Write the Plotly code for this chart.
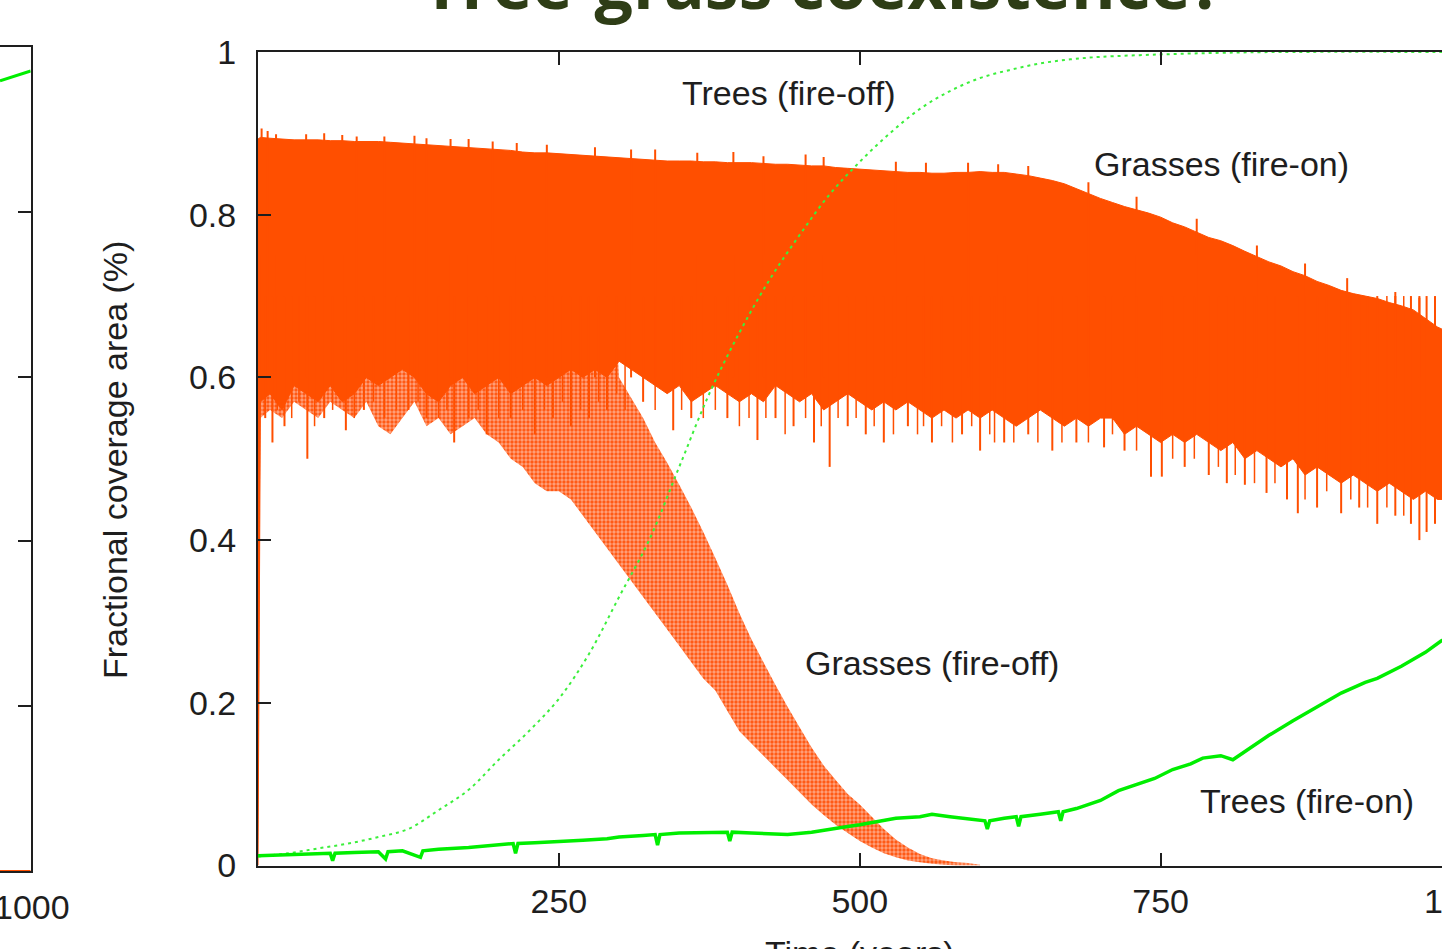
import plotly.graph_objects as go

# ---------------- data ----------------
band_years = [0, 2] + list(range(10, 1000, 10))

grass_on_upper = [0.893, 0.895, 0.894, 0.893, 0.892, 0.892, 0.892, 0.891, 0.891, 0.890,
                  0.890, 0.890, 0.889, 0.888, 0.887, 0.886, 0.885, 0.884, 0.883, 0.882,
                  0.881, 0.880, 0.879, 0.877, 0.876, 0.876, 0.875, 0.874, 0.873, 0.872,
                  0.871, 0.870, 0.869, 0.868, 0.867, 0.866, 0.866, 0.866, 0.865, 0.865,
                  0.864, 0.864, 0.864, 0.863, 0.862, 0.862, 0.861, 0.860, 0.860, 0.858,
                  0.857, 0.856, 0.855, 0.854, 0.853, 0.852, 0.852, 0.851, 0.851, 0.852,
                  0.852, 0.853, 0.852, 0.852, 0.850, 0.848, 0.845, 0.842, 0.838, 0.832,
                  0.826, 0.820, 0.815, 0.810, 0.806, 0.802, 0.797, 0.790, 0.785, 0.778,
                  0.772, 0.768, 0.762, 0.755, 0.748, 0.742, 0.737, 0.730, 0.725, 0.718,
                  0.713, 0.707, 0.703, 0.700, 0.697, 0.692, 0.688, 0.683, 0.672, 0.662,
                  0.655]

grass_on_lower = [0.00, 0.57, 0.58, 0.56, 0.59, 0.58, 0.57, 0.59, 0.57, 0.58,
                  0.60, 0.59, 0.60, 0.61, 0.60, 0.58, 0.57, 0.59, 0.60, 0.58,
                  0.59, 0.60, 0.58, 0.59, 0.60, 0.59, 0.60, 0.61, 0.60, 0.61,
                  0.60, 0.62, 0.61, 0.60, 0.59, 0.58, 0.59, 0.57, 0.58, 0.59,
                  0.58, 0.57, 0.58, 0.57, 0.59, 0.58, 0.57, 0.58, 0.56, 0.57,
                  0.58, 0.57, 0.56, 0.57, 0.56, 0.57, 0.56, 0.55, 0.56, 0.55,
                  0.56, 0.55, 0.56, 0.55, 0.54, 0.55, 0.56, 0.55, 0.54, 0.55,
                  0.54, 0.55, 0.55, 0.53, 0.54, 0.53, 0.52, 0.53, 0.52, 0.53,
                  0.52, 0.51, 0.52, 0.50, 0.51, 0.50, 0.49, 0.50, 0.48, 0.49,
                  0.48, 0.47, 0.48, 0.47, 0.46, 0.47, 0.46, 0.45, 0.46, 0.45,
                  0.45]

# short upward spikes on the top edge of the fire-on band
spike_years = [3, 8, 15, 40, 55, 70, 82, 105, 130, 140, 160, 175, 195, 215, 240, 280,
               310, 330, 365, 395, 420, 455, 470, 530, 555, 590, 615, 640, 690, 730,
               780, 830, 870, 905, 945, 965]
spike_tops = [0.906, 0.903, 0.899, 0.899, 0.900, 0.898, 0.896, 0.896, 0.897, 0.894,
              0.893, 0.893, 0.890, 0.888, 0.886, 0.883, 0.880, 0.880, 0.876, 0.877,
              0.872, 0.874, 0.871, 0.865, 0.864, 0.864, 0.862, 0.860, 0.840, 0.822,
              0.795, 0.762, 0.740, 0.722, 0.705, 0.698]

# deep downward dips below the fire-on band
dip_years = [6, 12, 22, 41, 55, 73, 88, 105, 125, 140, 163, 175, 190, 210, 230, 245,
             260, 275, 290, 320, 345, 360, 390, 415, 430, 445, 462, 475, 490, 505,
             520, 540, 560, 585, 600, 620, 640, 660, 680, 703, 720, 742, 751, 770,
             790, 805, 820, 838, 855, 864, 880, 900, 915, 930, 945, 958, 965, 971, 978]
dip_bottoms = [0.55, 0.52, 0.54, 0.50, 0.55, 0.535, 0.56, 0.55, 0.56, 0.55,
               0.52, 0.55, 0.53, 0.55, 0.53, 0.55, 0.54, 0.55, 0.56, 0.57,
               0.535, 0.55, 0.55, 0.523, 0.55, 0.54, 0.52, 0.49, 0.54, 0.53,
               0.52, 0.54, 0.52, 0.53, 0.51, 0.52, 0.53, 0.51, 0.52, 0.514,
               0.51, 0.478, 0.478, 0.49, 0.48, 0.47, 0.468, 0.458, 0.45, 0.433,
               0.44, 0.433, 0.44, 0.42, 0.43, 0.42, 0.40, 0.41, 0.42]

# shallower, thinner dips along the ragged lower edge
minor_dip_years = [16, 28, 34, 47, 62, 80, 96, 115, 133, 150, 157, 183, 200, 220, 238,
                   253, 268, 283, 298, 305, 330, 352, 370, 380, 400, 408, 422, 438, 455,
                   468, 482, 497, 512, 528, 548, 553, 568, 577, 593, 608, 612, 628, 648,
                   668, 690, 710, 730, 760, 778, 798, 812, 828, 845, 870, 888, 908, 922,
                   938, 952, 985]
minor_dip_bottoms = [0.56, 0.55, 0.57, 0.54, 0.56, 0.55, 0.57, 0.56, 0.57, 0.55,
                     0.56, 0.56, 0.55, 0.56, 0.56, 0.57, 0.56, 0.57, 0.58, 0.56,
                     0.56, 0.56, 0.55, 0.56, 0.54, 0.55, 0.55, 0.53, 0.55, 0.54,
                     0.55, 0.55, 0.54, 0.53, 0.53, 0.54, 0.54, 0.52, 0.54, 0.53,
                     0.52, 0.52, 0.52, 0.52, 0.52, 0.53, 0.51, 0.50, 0.50, 0.49,
                     0.48, 0.47, 0.47, 0.45, 0.46, 0.45, 0.44, 0.44, 0.43, 0.43]

off_years = [0, 2] + list(range(10, 610, 10))
grass_off_upper = [0.88, 0.88, 0.88, 0.88, 0.88, 0.88, 0.88, 0.88, 0.88, 0.88,
                   0.88, 0.88, 0.88, 0.88, 0.88, 0.88, 0.88, 0.88, 0.87, 0.87,
                   0.87, 0.87, 0.87, 0.87, 0.87, 0.87, 0.87, 0.87, 0.87, 0.87,
                   0.87, 0.600, 0.575, 0.550, 0.520, 0.495, 0.468, 0.440, 0.410, 0.378,
                   0.345, 0.310, 0.278, 0.250, 0.222, 0.195, 0.170, 0.145, 0.123, 0.105,
                   0.088, 0.075, 0.060, 0.045, 0.032, 0.022, 0.014, 0.009, 0.006, 0.004,
                   0.003, 0.001]
grass_off_lower = [0.00, 0.55, 0.56, 0.55, 0.57, 0.56, 0.55, 0.57, 0.56, 0.55,
                   0.57, 0.54, 0.53, 0.55, 0.57, 0.54, 0.55, 0.53, 0.54, 0.55,
                   0.53, 0.52, 0.50, 0.49, 0.47, 0.46, 0.46, 0.45, 0.43, 0.41,
                   0.39, 0.37, 0.35, 0.33, 0.31, 0.29, 0.27, 0.25, 0.23, 0.215,
                   0.19, 0.165, 0.15, 0.135, 0.12, 0.105, 0.09, 0.075, 0.062, 0.05,
                   0.04, 0.03, 0.022, 0.015, 0.010, 0.006, 0.004, 0.002, 0.001, 0.0,
                   0.0, 0.0]

trees_off_years = [0, 25, 50, 75, 100, 125, 150, 175, 200, 225, 250, 275, 300, 325,
                   350, 375, 400, 425, 450, 475, 500, 525, 550, 575, 600, 625, 650,
                   675, 700, 750, 800, 850, 1000]
trees_off = [0.011, 0.015, 0.021, 0.027, 0.035, 0.045, 0.068, 0.093, 0.130, 0.165,
             0.205, 0.260, 0.330, 0.400, 0.490, 0.580, 0.655, 0.720, 0.775, 0.825,
             0.865, 0.900, 0.930, 0.952, 0.968, 0.978, 0.986, 0.991, 0.994, 0.997,
             0.999, 1.000, 1.000]

trees_on_years = [0, 20, 40, 50, 60, 62, 64, 80, 100, 106, 108, 120, 135, 137, 150, 175,
                  190, 200, 212, 214, 216, 230, 250, 270, 290, 300, 320, 330, 332, 334,
                  350, 370, 390, 392, 394, 410, 430, 440, 460, 475, 490, 500, 515, 530,
                  550, 560, 575, 590, 604, 606, 608, 620, 630, 632, 634, 650, 665, 667,
                  669, 680, 700, 715, 730, 745, 760, 775, 785, 800, 810, 820, 840, 860,
                  880, 900, 920, 930, 950, 970, 983, 1000]
trees_on = [0.012, 0.013, 0.014, 0.015, 0.015, 0.006, 0.015, 0.016, 0.017, 0.008,
            0.017, 0.018, 0.010, 0.018, 0.020, 0.022, 0.024, 0.025, 0.027, 0.015,
            0.027, 0.028, 0.029, 0.031, 0.033, 0.035, 0.037, 0.038, 0.025, 0.038,
            0.040, 0.040, 0.041, 0.030, 0.041, 0.040, 0.039, 0.038, 0.041, 0.045,
            0.048, 0.050, 0.054, 0.058, 0.060, 0.063, 0.060, 0.057, 0.055, 0.045,
            0.055, 0.058, 0.060, 0.048, 0.060, 0.063, 0.066, 0.055, 0.066, 0.070,
            0.080, 0.092, 0.100, 0.107, 0.118, 0.125, 0.132, 0.135, 0.130, 0.140,
            0.160, 0.178, 0.195, 0.212, 0.225, 0.230, 0.245, 0.262, 0.276, 0.290]

# previous (left, mostly cut-off) panel
left_years = [974.5, 1000]
left_trees = [0.959, 0.971]
left_grass = [0.0, 0.0]

x_ticks = [250, 500, 750, 1000]
y_ticks = [0, 0.2, 0.4, 0.6, 0.8, 1]
y_tick_text = ["0", "0.2", "0.4", "0.6", "0.8", "1"]

labels = ["Trees (fire-off)", "Grasses (fire-on)", "Grasses (fire-off)", "Trees (fire-on)"]
label_x = [350.6, 693, 452.8, 781]
label_y = [0.949, 0.862, 0.249, 0.079]

assert len(band_years) == len(grass_on_upper) == len(grass_on_lower)
assert len(off_years) == len(grass_off_upper) == len(grass_off_lower)
assert len(spike_years) == len(spike_tops) and len(dip_years) == len(dip_bottoms)
assert len(minor_dip_years) == len(minor_dip_bottoms)
assert len(trees_off_years) == len(trees_off) and len(trees_on_years) == len(trees_on)

# ---------------- styling ----------------
FONT = "Liberation Sans, Arial, sans-serif"
ORANGE = "#ff4f00"
GREEN = "#00ee00"
AX = "#1e1e1e"

fig = go.Figure()

# Grasses (fire-off): dotted, drawn underneath
fig.add_trace(go.Scatter(
    x=off_years + off_years[::-1], y=grass_off_upper + grass_off_lower[::-1],
    fill="toself", mode="none", fillcolor="rgba(255,120,70,0.7)",
    fillpattern=dict(shape=".", size=4, solidity=0.55, fgcolor="#ff5a16",
                     bgcolor="rgba(255,140,95,0.8)", fillmode="replace"),
    hoverinfo="skip", xaxis="x", yaxis="y"))

# Grasses (fire-on): dense oscillation band
fig.add_trace(go.Scatter(
    x=band_years + band_years[::-1], y=grass_on_upper + grass_on_lower[::-1],
    fill="toself", mode="lines", line=dict(color=ORANGE, width=1),
    fillcolor=ORANGE, hoverinfo="skip", xaxis="x", yaxis="y"))

seg_x, seg_y = [], []
for t, v in zip(spike_years, spike_tops):
    seg_x += [t, t, None]
    seg_y += [0.6, v, None]
for t, v in zip(dip_years, dip_bottoms):
    seg_x += [t, t, None]
    seg_y += [0.7, v, None]
fig.add_trace(go.Scatter(x=seg_x, y=seg_y, mode="lines",
                         line=dict(color=ORANGE, width=2),
                         hoverinfo="skip", xaxis="x", yaxis="y"))
mx, my = [], []
for t, v in zip(minor_dip_years, minor_dip_bottoms):
    mx += [t, t, None]
    my += [0.7, v, None]
fig.add_trace(go.Scatter(x=mx, y=my, mode="lines",
                         line=dict(color=ORANGE, width=1.5),
                         hoverinfo="skip", xaxis="x", yaxis="y"))

# Trees (fire-off): thin dotted green
fig.add_trace(go.Scatter(x=trees_off_years, y=trees_off, mode="lines",
                         line=dict(color="#3cef3c", width=2, dash="3px,4px", shape="spline"),
                         hoverinfo="skip", xaxis="x", yaxis="y"))

# Trees (fire-on): solid green
fig.add_trace(go.Scatter(x=trees_on_years, y=trees_on, mode="lines",
                         line=dict(color=GREEN, width=3.5),
                         hoverinfo="skip", xaxis="x", yaxis="y"))

# left panel remnants
fig.add_trace(go.Scatter(x=left_years, y=left_trees, mode="lines",
                         line=dict(color=GREEN, width=3), hoverinfo="skip",
                         xaxis="x2", yaxis="y2"))
fig.add_trace(go.Scatter(x=left_years, y=left_grass, mode="lines",
                         line=dict(color=ORANGE, width=2), hoverinfo="skip",
                         cliponaxis=False, xaxis="x2", yaxis="y2"))

tickfont = dict(family=FONT, size=34, color=AX)
W, H = 1442, 949
B = 78
PH = H - B  # plot-area height in px

def py(px):
    return (PH - px) / PH

fig.update_layout(
    width=W, height=H, margin=dict(l=0, r=0, t=0, b=B, autoexpand=False),
    paper_bgcolor="white", plot_bgcolor="white", showlegend=False,
    xaxis=dict(domain=[258 / W, 1], range=[0, (W - 258) / 1.2035],
               tickvals=x_ticks, ticks="inside", ticklen=13, tickwidth=2, tickcolor=AX,
               showline=True, linewidth=2, linecolor=AX, mirror="ticks",
               showgrid=False, zeroline=False, tickfont=tickfont, automargin=False,
               ticklabelstandoff=5, anchor="y"),
    yaxis=dict(domain=[py(865.5), py(52)], range=[0, 1],
               tickvals=y_ticks, ticktext=y_tick_text, ticks="inside", ticklen=13,
               tickwidth=2, tickcolor=AX, showline=True, linewidth=2, linecolor=AX,
               mirror=False, showgrid=False, zeroline=False, tickfont=tickfont,
               automargin=False, ticklabelstandoff=13, anchor="x"),
    xaxis2=dict(domain=[0, 30.7 / W], range=[974.5, 1000], showticklabels=False,
                ticks="", showline=True, linewidth=2, linecolor=AX,
                mirror=True, showgrid=False, zeroline=False, automargin=False,
                anchor="y2"),
    yaxis2=dict(domain=[py(871), py(47)], range=[0, 1], side="right",
                tickvals=[0.2, 0.4, 0.6, 0.8], ticks="inside", ticklen=13, tickwidth=2,
                tickcolor=AX, showticklabels=False, showline=True, linewidth=2,
                linecolor=AX, mirror=False, showgrid=False, zeroline=False,
                automargin=False, anchor="x2"),
)

ann = []
for txt, x, y in zip(labels, label_x, label_y):
    ann.append(dict(text=txt, x=x, y=y, xref="x", yref="y", xanchor="left",
                    yanchor="middle", showarrow=False,
                    font=dict(family=FONT, size=34, color=AX)))
# cut-off "1000" tick labels at both edges
ann.append(dict(text="1000", x=(258 + 1000 * 1.2035) / W, y=py(900.7), xref="paper",
                yref="paper", xanchor="center", yanchor="middle", showarrow=False,
                font=dict(family=FONT, size=34, color=AX)))
ann.append(dict(text="1000", x=32 / W, y=py(907), xref="paper",
                yref="paper", xanchor="center", yanchor="middle", showarrow=False,
                font=dict(family=FONT, size=34, color=AX)))
ann.append(dict(text="Fractional coverage area (%)", x=115 / W, y=py(460), xref="paper",
                yref="paper", xanchor="center", yanchor="middle", textangle=-90,
                showarrow=False, font=dict(family=FONT, size=34, color=AX)))
ann.append(dict(text="Time (years)", x=860 / W, y=py(932), xref="paper", yref="paper",
                xanchor="center", yanchor="top", showarrow=False,
                font=dict(family=FONT, size=34, color=AX)))
ann.append(dict(text="<b>Tree-grass coexistence?</b>", x=822 / W, y=py(31), xref="paper",
                yref="paper", xanchor="center", yanchor="bottom", showarrow=False,
                font=dict(family="Open Sans, sans-serif", size=68, color="#2e3d16")))
fig.update_layout(annotations=ann)

fig.write_html("out.html", config={"displayModeBar": False},
               post_script="document.body.style.margin='0';document.body.style.overflow='hidden';")
